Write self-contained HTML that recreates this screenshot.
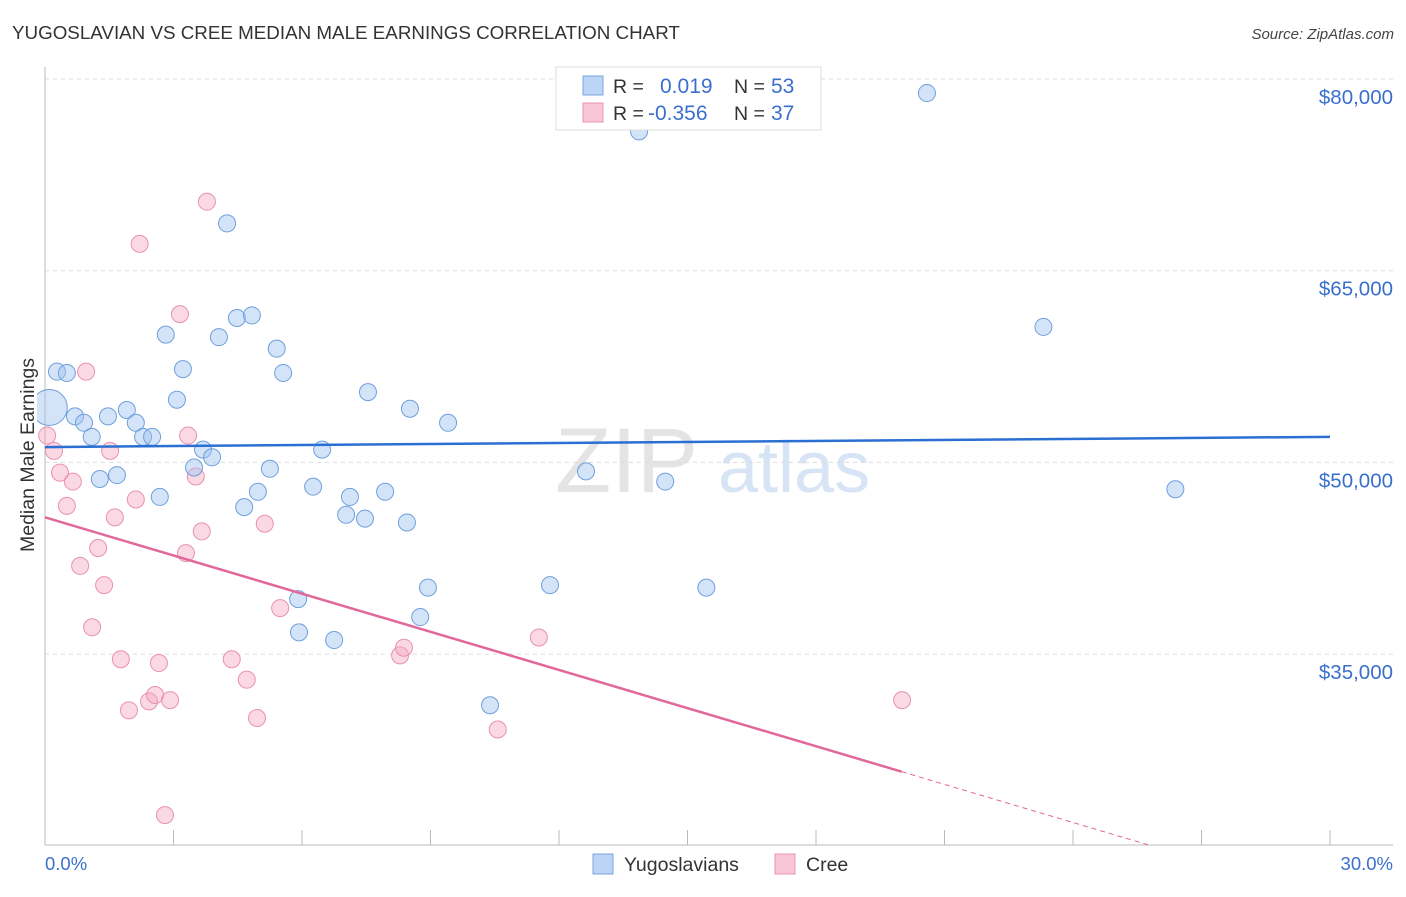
<!DOCTYPE html>
<html><head><meta charset="utf-8"><style>
body{margin:0;background:#fff;font-family:"Liberation Sans",sans-serif;}
svg text{font-family:"Liberation Sans",sans-serif;}
</style></head><body>
<svg id="chart" width="1406" height="892" xmlns="http://www.w3.org/2000/svg">
<defs><clipPath id="plotclip"><rect x="37" y="60" width="1360" height="790"/></clipPath></defs>
<text x="12" y="39" font-size="18.8" fill="#333">YUGOSLAVIAN VS CREE MEDIAN MALE EARNINGS CORRELATION CHART</text>
<text x="1394" y="39" font-size="15" fill="#444" text-anchor="end" font-style="italic">Source: ZipAtlas.com</text>
<text x="555" y="492" font-size="92" fill="#e4e4e4" font-family="Liberation Serif">ZIP</text>
<text x="718" y="492" font-size="72" fill="#d6e4f6">atlas</text>
<text transform="translate(34,455) rotate(-90)" font-size="19.5" fill="#333" text-anchor="middle">Median Male Earnings</text>
<g id="grid"></g><g id="marks" clip-path="url(#plotclip)"></g>
<g>
<rect x="556" y="67" width="265" height="63" fill="#fff" stroke="#ddd"/>
<rect x="583" y="76" width="20" height="19" fill="#bcd4f5" stroke="#7aa6e0"/>
<rect x="583" y="103" width="20" height="19" fill="#f9c6d6" stroke="#eb93b0"/>
<text x="613" y="93" font-size="19.5" fill="#333">R =</text>
<text x="660" y="93" font-size="21" fill="#3a70cc">0.019</text>
<text x="734" y="93" font-size="19.5" fill="#333">N =</text>
<text x="771" y="93" font-size="21" fill="#3a70cc">53</text>
<text x="613" y="120" font-size="19.5" fill="#333">R =</text>
<text x="648" y="120" font-size="21" fill="#3a70cc">-0.356</text>
<text x="734" y="120" font-size="19.5" fill="#333">N =</text>
<text x="771" y="120" font-size="21" fill="#3a70cc">37</text>
</g>
<g>
<rect x="593" y="854" width="20" height="20" fill="#bcd4f5" stroke="#7aa6e0"/>
<text x="624" y="871" font-size="19.5" fill="#333">Yugoslavians</text>
<rect x="775" y="854" width="20" height="20" fill="#f9c6d6" stroke="#eb93b0"/>
<text x="806" y="871" font-size="19.5" fill="#333">Cree</text>
</g>
<text x="45" y="870" font-size="18.5" fill="#3a70cc">0.0%</text>
<text x="1393" y="870" font-size="18.5" fill="#3a70cc" text-anchor="end">30.0%</text>
</svg>
<script>
const yTicks=[80000,65000,50000,35000];
const yTickLabels=["$80,000","$65,000","$50,000","$35,000"];
const xTicks=[0,3,6,9,12,15,18,21,24,27,30];
const blueX=[0.1,0.28,0.51,0.7,0.91,1.09,1.28,1.47,1.68,1.91,2.12,2.29,2.5,2.68,2.82,3.08,3.22,3.48,3.69,3.9,4.06,4.25,4.48,4.65,4.83,4.97,5.25,5.41,5.56,5.91,5.93,6.26,6.47,6.75,7.03,7.12,7.47,7.54,7.94,8.45,8.52,8.76,8.94,9.41,10.39,11.79,12.63,13.87,14.48,15.44,20.59,23.31,26.39];
const blueY=[54300,57100,57000,53600,53100,52000,48700,53600,49000,54100,53100,52000,52000,47300,60000,54900,57300,49600,51000,50400,59800,68700,61300,46500,61500,47700,49500,58900,57000,39300,36700,48100,51000,36100,45900,47300,45600,55500,47700,45300,54200,37900,40200,53100,31000,40400,49300,75900,48500,40200,78900,60600,47900];
const pinkX=[0.05,0.21,0.35,0.51,0.65,0.82,0.96,1.1,1.24,1.38,1.52,1.63,1.77,1.96,2.12,2.21,2.43,2.57,2.66,2.8,2.92,3.15,3.29,3.34,3.52,3.66,3.78,4.36,4.71,4.95,5.13,5.49,8.29,8.38,10.57,11.53,20.01];
const pinkY=[52100,50900,49200,46600,48500,41900,57100,37100,43300,40400,50900,45700,34600,30600,47100,67100,31300,31800,34300,22400,31400,61600,42900,52100,48900,44600,70400,34600,33000,30000,45200,38600,34900,35500,29100,36300,31400];
const blueTrend=[51200,52000];
const pinkTrend=[45700,25800];
const X=v=>45+v/30*1285, Y=v=>79+(80000-v)/15000*191.7;
const NS="http://www.w3.org/2000/svg";
const grid=document.getElementById('grid'), marks=document.getElementById('marks');
function mk(p,tag,a){const e=document.createElementNS(NS,tag);for(const k in a)e.setAttribute(k,a[k]);p.appendChild(e);return e;}
yTicks.forEach((t,i)=>{
 const l=mk(grid,'line',{x1:45,x2:1393,y1:Y(t),y2:Y(t),stroke:'#ddd','stroke-dasharray':'4,4'});
 
 
 const tx=mk(grid,'text',{x:1393,y:Y(t)+25,'font-size':20.5,fill:'#3a70cc','text-anchor':'end'});
 tx.textContent=yTickLabels[i];
 
 
});
const ax=mk(grid,'line',{x1:45,x2:1393,y1:845,y2:845,stroke:'#bbb'});


const ay=mk(grid,'line',{x1:45,x2:45,y1:67,y2:845,stroke:'#bbb'});


xTicks.forEach(t=>{const l=mk(grid,'line',{x1:X(t),x2:X(t),y1:830,y2:845,stroke:'#bbb'});
 
 });
pinkX.forEach((x,i)=>{const c=mk(marks,'circle',{cx:X(x),cy:Y(pinkY[i]),r:8.5,fill:'rgba(244,170,196,0.45)',stroke:'#e991b0','stroke-width':1});
 
 });
blueX.forEach((x,i)=>{const c=mk(marks,'circle',{cx:X(x),cy:Y(blueY[i]),r:i==0?18:8.5,fill:'rgba(160,196,240,0.45)',stroke:'#6f9fdc','stroke-width':1});
 
 });
const bt=mk(marks,'line',{x1:X(0),x2:X(30),y1:Y(blueTrend[0]),y2:Y(blueTrend[1]),stroke:'#2a6fd1','stroke-width':2.5});


const slope=(pinkTrend[1]-pinkTrend[0])/20;
const pt=mk(marks,'line',{x1:X(0),x2:X(20),y1:Y(pinkTrend[0]),y2:Y(pinkTrend[1]),stroke:'#e2679a','stroke-width':2.5});


const xEnd=20+(20000-pinkTrend[1])/slope;
const pd=mk(marks,'line',{x1:X(20),x2:X(xEnd),y1:Y(pinkTrend[1]),y2:Y(20000),stroke:'#e2679a','stroke-width':1,'stroke-dasharray':'5,4'});


</script>
</body></html>
